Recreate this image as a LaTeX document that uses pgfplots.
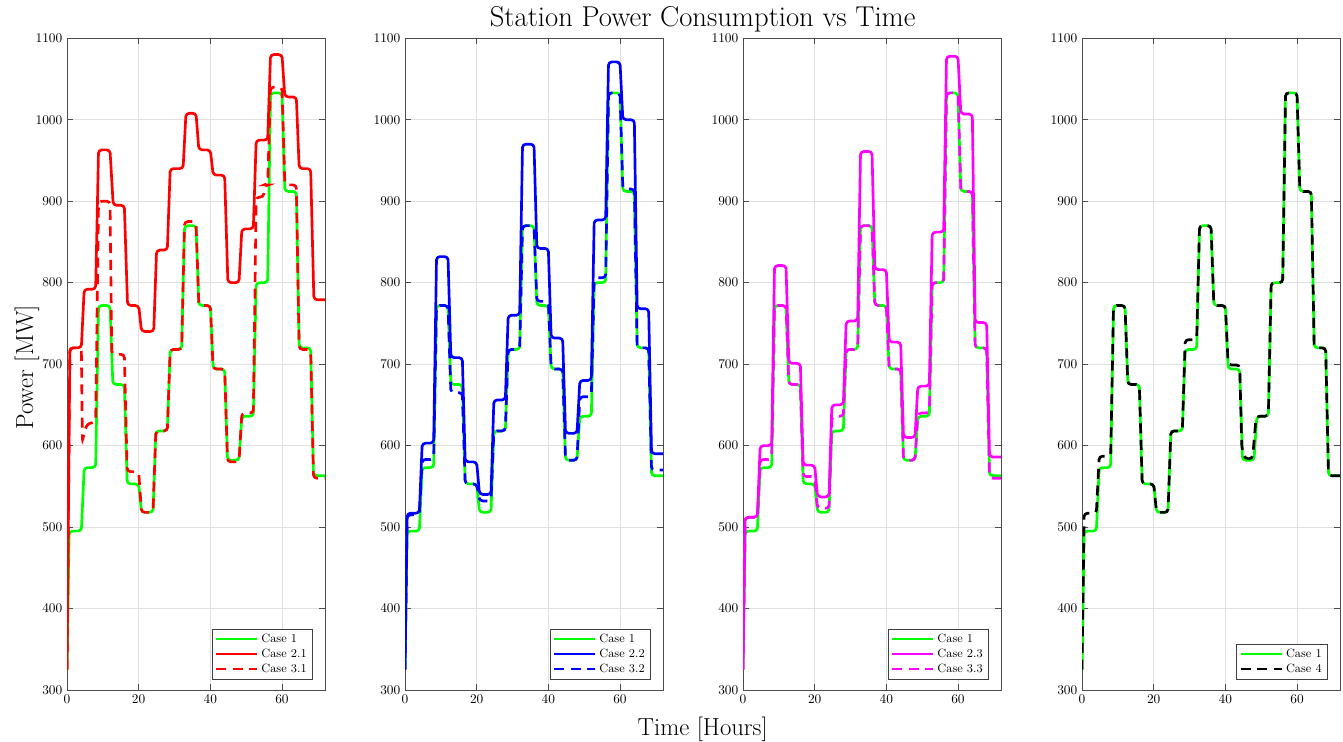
\documentclass[border=0pt]{standalone}
\usepackage{pgfplots}
\pgfplotsset{compat=1.18}
\definecolor{axgray}{gray}{0.3}
\definecolor{mgreen}{rgb}{0,1,0}
\definecolor{mred}{rgb}{1,0,0}
\definecolor{mblue}{rgb}{0,0,1}
\definecolor{mmag}{rgb}{1,0,1}
\pgfplotsset{
  panel/.style={
    scale only axis, width=193.5pt, height=488.8pt,
    anchor=south west,
    xmin=0, xmax=72, ymin=300, ymax=1100,
    xtick={0,20,40,60}, ytick={300,400,...,1100},
    /pgf/number format/1000 sep={},
    grid=major, major grid style={black!12, line width=0.5pt},
    axis line style={axgray, line width=0.6pt},
    every tick/.style={axgray, line width=0.6pt},
    major tick length=4.5pt,
    tick align=inside,
    ticklabel style={font=\fontsize{9.75}{11}\selectfont},
    legend style={at={(1,0)}, anchor=south east, xshift=-9.5pt, yshift=8pt,
      draw=black!75, fill=white, font=\fontsize{9}{10.5}\selectfont,
      row sep=-0.5pt, inner xsep=2pt, inner ysep=1.5pt},
    legend cell align=left,
    legend image code/.code={\draw[#1] (0pt,0pt) -- (31pt,0pt);},
  },
  sol/.style={line width=2pt, line join=round, rounded corners=2.5pt},
  dsh/.style={line width=2pt, dash pattern=on 7.5pt off 5pt, rounded corners=2.5pt},
}
\begin{document}
\begin{tikzpicture}
\path[use as bounding box] (0,0) rectangle (1007.25pt,556.5pt);

% ---------------- Panel 1 ----------------
\begin{axis}[panel, at={(50.25pt,39pt)}]
\addplot[sol, mgreen] coordinates {
(0,325) (0.6,495) (4,495) (4.8,573) (8,573) (8.8,772) (12,772) (12.8,675) (16,675) (16.8,553) (20,553) (20.8,518) (24,518) (24.8,618) (28,618) (28.8,718) (32,718) (32.8,870) (36,870) (36.8,772) (40,772) (40.8,694) (44,694) (44.8,582) (48,582) (48.8,636) (52,636) (52.8,800) (56,800) (56.8,1033) (60,1033) (60.8,912) (64,912) (64.8,720) (68,720) (68.8,563) (72,563)};
\addplot[sol, mred] coordinates {
(0,325) (0.8,720) (4,720) (4.8,792) (8,792) (8.8,963) (12,963) (12.9,895) (16,895) (16.9,772) (20,772) (20.8,740) (24.2,740) (25,840) (28,840) (28.8,940) (32.4,940) (33.2,1008) (36,1008) (36.8,963) (40,963) (40.8,932) (44,932) (44.9,800) (48,800) (48.8,866) (52,866) (52.8,975) (56,975) (56.8,1080) (60,1080) (60.8,1028) (64,1028) (64.8,940) (68,940) (68.9,779) (72,779)};
\addplot[dsh, mred] coordinates {
(0,325) (0.8,720) (4,720) (4.3,605) (5,620) (6,628) (8,628) (8.8,900) (12,900) (12.5,712) (16,712) (16.8,568) (20,568) (20.8,518) (24,518) (24.8,618) (28,618) (28.8,718) (32,718) (32.8,875) (36,875) (36.8,772) (40,772) (40.8,694) (44,694) (44.8,580) (48,580) (48.8,640) (52,640) (52.8,905) (54.8,905) (55.3,920) (56,920) (56.8,1040) (60,1040) (60.8,920) (64,920) (64.8,718) (68,718) (68.8,560) (72,560)};
\legend{Case 1, Case 2.1, Case 3.1}
\end{axis}

% ---------------- Panel 2 ----------------
\begin{axis}[panel, at={(303.75pt,39pt)}]
\addplot[sol, mgreen] coordinates {
(0,325) (0.6,495) (4,495) (4.8,573) (8,573) (8.8,772) (12,772) (12.8,675) (16,675) (16.8,553) (20,553) (20.8,518) (24,518) (24.8,618) (28,618) (28.8,718) (32,718) (32.8,870) (36,870) (36.8,772) (40,772) (40.8,694) (44,694) (44.8,582) (48,582) (48.8,636) (52,636) (52.8,800) (56,800) (56.8,1033) (60,1033) (60.8,912) (64,912) (64.8,720) (68,720) (68.8,563) (72,563)};
\addplot[sol, mblue] coordinates {
(0,325) (0.6,517) (4,517) (4.8,603) (8,603) (8.8,832) (12,832) (12.8,708) (16,708) (16.8,580) (20,580) (20.8,540) (24,540) (24.8,656) (28,656) (28.8,760) (32,760) (32.8,970) (36,970) (36.8,842) (40,842) (40.8,732) (44,732) (44.8,615) (48,615) (48.8,680) (52,680) (52.8,877) (56,877) (56.8,1071) (60,1071) (60.8,1000) (64,1000) (64.8,768) (68,768) (68.8,590) (72,590)};
\addplot[dsh, mblue] coordinates {
(0,325) (0.6,515) (4,515) (4.8,583) (8,583) (8.8,772) (12,772) (12.8,665) (16,665) (16.8,553) (20,553) (20.8,532) (24,532) (24.8,618) (28,618) (28.8,718) (32,718) (32.8,870) (36,870) (36.8,777) (40,777) (40.8,694) (44,694) (44.8,582) (48,582) (48.8,660) (52,660) (52.8,806) (56,806) (56.8,1033) (60,1033) (60.8,915) (64,915) (64.8,720) (68,720) (68.8,570) (72,570)};
\legend{Case 1, Case 2.2, Case 3.2}
\end{axis}

% ---------------- Panel 3 ----------------
\begin{axis}[panel, at={(557.25pt,39pt)}]
\addplot[sol, mgreen] coordinates {
(0,325) (0.6,495) (4,495) (4.8,573) (8,573) (8.8,772) (12,772) (12.8,675) (16,675) (16.8,553) (20,553) (20.8,518) (24,518) (24.8,618) (28,618) (28.8,718) (32,718) (32.8,870) (36,870) (36.8,772) (40,772) (40.8,694) (44,694) (44.8,582) (48,582) (48.8,636) (52,636) (52.8,800) (56,800) (56.8,1033) (60,1033) (60.8,912) (64,912) (64.8,720) (68,720) (68.8,563) (72,563)};
\addplot[sol, mmag] coordinates {
(0,325) (0.6,512) (4,512) (4.8,600) (8,600) (8.8,821) (12,821) (12.8,701) (16,701) (16.8,576) (20,576) (20.8,537) (24,537) (24.8,650) (28,650) (28.8,753) (32,753) (32.8,961) (36,961) (36.8,816) (40,816) (40.8,727) (44,727) (44.8,610) (48,610) (48.8,673) (52,673) (52.8,862) (56,862) (56.8,1078) (60,1078) (60.8,1007) (64,1007) (64.8,751) (68,751) (68.8,586) (72,586)};
\addplot[dsh, mmag] coordinates {
(0,325) (0.6,512) (4,512) (4.8,583) (8,583) (8.8,772) (12,772) (12.8,675) (16,675) (16.8,562) (20,562) (20.8,523) (24,523) (24.8,636) (28,636) (28.8,718) (32,718) (32.8,870) (36,870) (36.8,772) (40,772) (40.8,694) (44,694) (44.8,582) (48,582) (48.8,640) (52,640) (52.8,800) (56,800) (56.8,1033) (60,1033) (60.8,912) (64,912) (64.8,720) (68,720) (68.8,560) (72,560)};
\legend{Case 1, Case 2.3, Case 3.3}
\end{axis}

% ---------------- Panel 4 ----------------
\begin{axis}[panel, at={(811.5pt,39pt)}]
\addplot[sol, mgreen] coordinates {
(0,325) (0.6,495) (4,495) (4.8,573) (8,573) (8.8,772) (12,772) (12.8,675) (16,675) (16.8,553) (20,553) (20.8,518) (24,518) (24.8,618) (28,618) (28.8,718) (32,718) (32.8,870) (36,870) (36.8,772) (40,772) (40.8,694) (44,694) (44.8,582) (48,582) (48.8,636) (52,636) (52.8,800) (56,800) (56.8,1033) (60,1033) (60.8,912) (64,912) (64.8,720) (68,720) (68.8,563) (72,563)};
\addplot[dsh, black] coordinates {
(0,325) (0.6,517) (4,517) (4.8,587) (8,587) (8.8,772) (12,772) (12.8,675) (16,675) (16.8,553) (20,553) (20.8,518) (24,518) (24.8,618) (28,618) (28.8,730) (32,730) (32.8,870) (36,870) (36.8,772) (40,772) (40.8,699) (44,699) (44.6,598) (45.4,584) (47.6,584) (48.6,636) (52,636) (52.8,800) (56,800) (56.8,1033) (60,1033) (60.8,912) (64,912) (64.8,720) (68,720) (68.8,563) (72,563)};
\legend{Case 1, Case 4}
\end{axis}

\node[anchor=base, font=\fontsize{21.5}{24}\selectfont] at (527pt,536.25pt) {Station Power Consumption vs Time};
\node[anchor=base, font=\fontsize{18.5}{21}\selectfont] at (527pt,4.5pt) {Time [Hours]};
\node[anchor=base, rotate=90, font=\fontsize{18.5}{21}\selectfont] at (24.75pt,280.9pt) {Power [MW]};
\end{tikzpicture}
\end{document}
